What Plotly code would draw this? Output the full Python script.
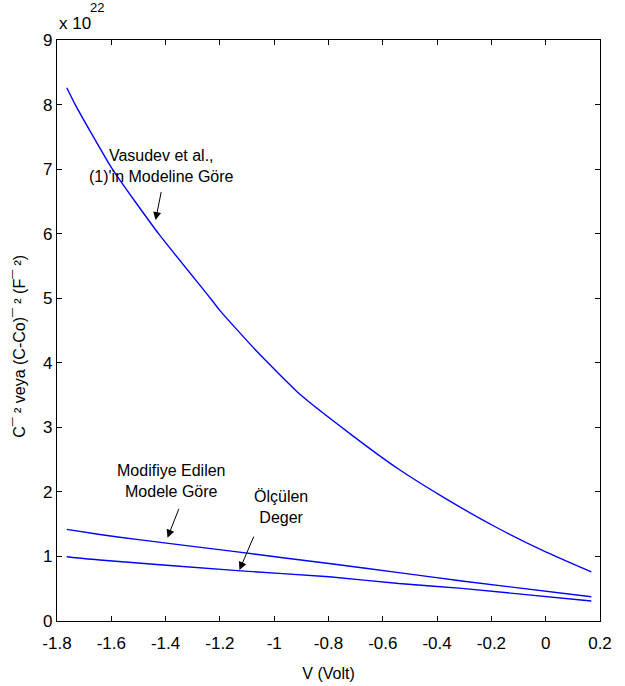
import plotly.graph_objects as go

# Upper curve: Vasudev et al. model
x_vasudev = [-1.764, -1.733, -1.596, -1.426, -1.235, -1.202, -1.067, -0.902,
             -0.714, -0.541, -0.370, -0.186, 0.0, 0.168]
y_vasudev = [8.26, 8.0, 7.0, 6.0, 5.0, 4.82, 4.19, 3.50,
             2.88, 2.35, 1.90, 1.46, 1.07, 0.76]

# Middle curve: modified model
x_modified = [-1.764, -1.642, -1.50, -1.136, -0.798, -0.541, -0.309, 0.168]
y_modified = [1.42, 1.34, 1.26, 1.07, 0.89, 0.75, 0.62, 0.376]

# Bottom curve: measured
x_measured = [-1.764, -1.642, -1.135, -0.798, -0.541, -0.309, 0.168]
y_measured = [0.995, 0.944, 0.78, 0.686, 0.58, 0.506, 0.31]

x_ticks = [-1.8, -1.6, -1.4, -1.2, -1.0, -0.8, -0.6, -0.4, -0.2, 0.0, 0.2]
x_tick_labels = ["-1.8", "-1.6", "-1.4", "-1.2", "-1", "-0.8", "-0.6", "-0.4", "-0.2", "0", "0.2"]
y_ticks = [0, 1, 2, 3, 4, 5, 6, 7, 8, 9]
y_tick_labels = ["0", "1", "2", "3", "4", "5", "6", "7", "8", "9"]

FONT = "Liberation Sans Narrow, Arial Narrow, Liberation Sans, Arial"
BLUE = "rgb(0,0,255)"

fig = go.Figure()
for xs, ys in [(x_vasudev, y_vasudev), (x_modified, y_modified), (x_measured, y_measured)]:
    fig.add_trace(go.Scatter(x=xs, y=ys, mode="lines",
                             line=dict(color=BLUE, width=1.4, shape="spline", smoothing=0.5),
                             showlegend=False, hoverinfo="skip"))

axis_common = dict(showgrid=False, zeroline=False, showline=True, linecolor="black", linewidth=1.2,
                   mirror="ticks", ticks="inside", ticklen=5, tickcolor="black", tickwidth=1,
                   automargin=False,
                   tickfont=dict(family=FONT, size=17, color="black"))

fig.update_xaxes(range=[-1.8, 0.2], tickmode="array", tickvals=x_ticks, ticktext=x_tick_labels,
                 ticklabelstandoff=6,
                 title=dict(text="V (Volt)", font=dict(family=FONT, size=16, color="black"), standoff=16),
                 **axis_common)
fig.update_yaxes(range=[0, 9], tickmode="array", tickvals=y_ticks, ticktext=y_tick_labels,
                 **axis_common)

ann_font = dict(family=FONT, size=16, color="black")
arrow_style = dict(text="", showarrow=True, arrowhead=2, arrowsize=1.6, arrowwidth=1, arrowcolor="black",
                   axref="x", ayref="y")

fig.add_annotation(x=-1.437, y=6.21, ax=-1.415, ay=6.67, **arrow_style)
fig.add_annotation(x=-1.393, y=1.29, ax=-1.349, ay=1.76, **arrow_style)
fig.add_annotation(x=-1.128, y=0.79, ax=-1.073, ay=1.33, **arrow_style)

fig.add_annotation(x=-1.415, y=7.05, text="Vasudev et al.,<br>(1)'in Modeline Göre", showarrow=False,
                   font=ann_font, align="center", xanchor="center", yanchor="middle")
fig.add_annotation(x=-1.378, y=2.17, text="Modifiye Edilen<br>Modele Göre", showarrow=False,
                   font=ann_font, align="center", xanchor="center", yanchor="middle")
fig.add_annotation(x=-0.974, y=1.76, text="Ölçülen<br>Deger", showarrow=False,
                   font=ann_font, align="center", xanchor="center", yanchor="middle")

# y-axis title as a rotated annotation
fig.add_annotation(xref="paper", yref="paper", x=-0.068, y=0.472, xanchor="center", yanchor="middle",
                   textangle=-90, text="C¯ ² veya (C-Co)¯ ² (F¯ ²)", showarrow=False,
                   font=dict(family=FONT, size=16, color="black"))

fig.add_annotation(xref="paper", yref="paper", x=0.0, y=1.0, yshift=5, xanchor="left", yanchor="bottom",
                   text="x 10", showarrow=False, font=dict(family=FONT, size=17, color="black"))
fig.add_annotation(xref="paper", yref="paper", x=0.057, y=1.0, yshift=23, xanchor="left", yanchor="bottom",
                   text="22", showarrow=False, font=dict(family=FONT, size=13, color="black"))

fig.update_layout(width=625, height=686, margin=dict(l=57, r=25, t=40, b=65),
                  paper_bgcolor="white", plot_bgcolor="white",
                  font=dict(family=FONT, color="black"))

fig.write_html("out.html")
